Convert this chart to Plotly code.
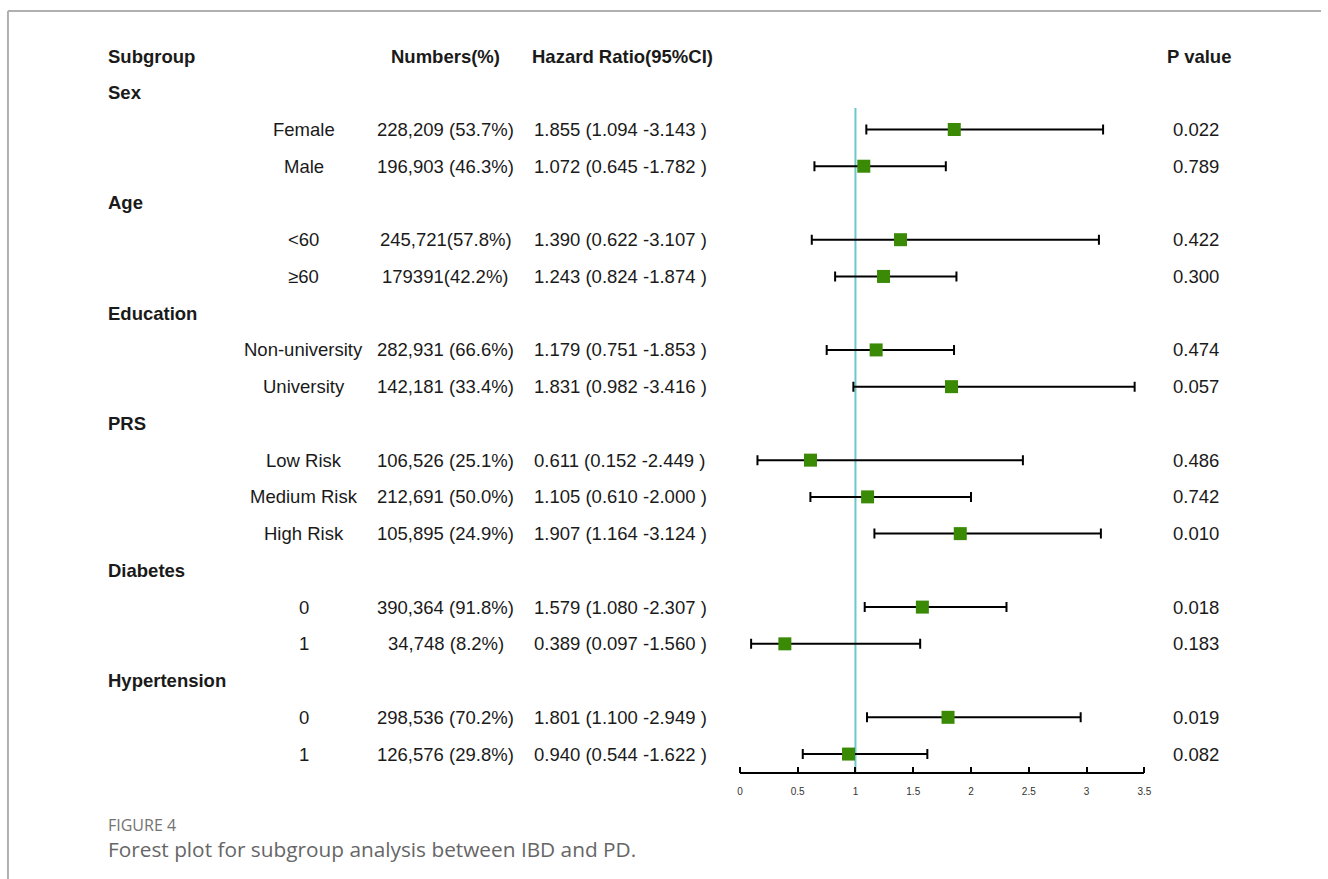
import plotly.graph_objects as go

# ---- data ----
groups = ["Sex", "Age", "Education", "PRS", "Diabetes", "Hypertension"]
group_sizes = [2, 2, 2, 3, 2, 2]
subgroups = ["Female", "Male", "<60", "≥60", "Non-university", "University",
             "Low Risk", "Medium Risk", "High Risk", "0", "1", "0", "1"]
numbers = ["228,209 (53.7%)", "196,903 (46.3%)", "245,721(57.8%)", "179391(42.2%)",
           "282,931 (66.6%)", "142,181 (33.4%)", "106,526 (25.1%)", "212,691 (50.0%)",
           "105,895 (24.9%)", "390,364 (91.8%)", "34,748 (8.2%)", "298,536 (70.2%)",
           "126,576 (29.8%)"]
hr = [1.855, 1.072, 1.390, 1.243, 1.179, 1.831, 0.611, 1.105, 1.907, 1.579, 0.389, 1.801, 0.940]
lo = [1.094, 0.645, 0.622, 0.824, 0.751, 0.982, 0.152, 0.610, 1.164, 1.080, 0.097, 1.100, 0.544]
hi = [3.143, 1.782, 3.107, 1.874, 1.853, 3.416, 2.449, 2.000, 3.124, 2.307, 1.560, 2.949, 1.622]
pvals = ["0.022", "0.789", "0.422", "0.300", "0.474", "0.057", "0.486", "0.742",
         "0.010", "0.018", "0.183", "0.019", "0.082"]
x_ticks = [0, 0.5, 1, 1.5, 2, 2.5, 3, 3.5]
headers = ["Subgroup", "Numbers(%)", "Hazard Ratio(95%CI)", "P value"]

# ---- layout geometry ----
W, H = 1328, 879
row0_px, row_step = 56, 36.74          # pixel position of header row and row spacing
y_top = -row0_px / row_step
y_bot = (H - row0_px) / row_step

def px(x):
    return x / W

# row indices: header = 0, then group title rows and their subgroup rows
group_rows, sub_rows = [], []
r = 1
for n in group_sizes:
    group_rows.append(r)
    r += 1
    for _ in range(n):
        sub_rows.append(r)
        r += 1
axis_row = sub_rows[-1] + (773 - (row0_px + row_step * sub_rows[-1])) / row_step
axis_pos = 1 - 773 / H
x_domain = [px(742.5), px(1150)]

TXT = "#1a1a1a"
FONT = "Liberation Sans, Arial, sans-serif"
BODY = 18.5
HEAD = 18.5

fig = go.Figure()

# reference line at HR = 1
fig.add_shape(type="line", xref="x", yref="y", x0=1, x1=1,
              y0=1.415, y1=axis_row, line=dict(color="#6cc6cc", width=2), layer="below")

# point estimates with confidence intervals
fig.add_trace(go.Scatter(
    x=hr, y=sub_rows, mode="markers",
    marker=dict(symbol="square", size=13, color="#3a8a06", line=dict(width=0)),
    error_x=dict(type="data", symmetric=False,
                 array=[h - m for h, m in zip(hi, hr)],
                 arrayminus=[m - l for m, l in zip(hr, lo)],
                 color="black", thickness=2, width=5),
    showlegend=False, hoverinfo="skip",
))
# empty trace so the upward tick axis is drawn
fig.add_trace(go.Scatter(x=[], y=[], xaxis="x2", yaxis="y", showlegend=False,
                         hoverinfo="skip"))

ann = []
# column headers
for text, x, anc in zip(headers, [104, 446, 531, 1205], ["left", "center", "left", "center"]):
    ann.append(dict(text=f"<b>{text}</b>", x=px(x), y=0, xref="paper", yref="y",
                    xanchor=anc, yanchor="middle", showarrow=False,
                    font=dict(size=HEAD, color=TXT, family=FONT)))
# group titles
for g, rr in zip(groups, group_rows):
    ann.append(dict(text=f"<b>{g}</b>", x=px(104), y=rr, xref="paper", yref="y",
                    xanchor="left", yanchor="middle", showarrow=False,
                    font=dict(size=HEAD, color=TXT, family=FONT)))
# subgroup rows
for i, rr in enumerate(sub_rows):
    hr_txt = f"{hr[i]:.3f} ({lo[i]:.3f} -{hi[i]:.3f} )"
    for text, x, anc in [(subgroups[i], 303, "center"), (numbers[i], 446, "center"),
                         (hr_txt, 533, "left"), (pvals[i], 1202, "center")]:
        ann.append(dict(text=text, x=px(x), y=rr, xref="paper", yref="y",
                        xanchor=anc, yanchor="middle", showarrow=False,
                        font=dict(size=BODY, color=TXT, family=FONT)))

# caption
ann.append(dict(text="FIGURE 4", x=px(104), y=1 - 825 / H, xref="paper", yref="paper",
                xanchor="left", yanchor="middle", showarrow=False,
                font=dict(size=16, color="#737373", family="Open Sans, sans-serif")))
ann.append(dict(text="Forest plot for subgroup analysis between IBD and PD.",
                x=px(104), y=1 - 849 / H, xref="paper", yref="paper",
                xanchor="left", yanchor="middle", showarrow=False,
                font=dict(size=20.8, color="#666666", family="Open Sans, sans-serif")))

# page frame (top and left edges)
frame = dict(color="#b0b0b0", width=2)
fig.add_shape(type="line", xref="paper", yref="paper", x0=px(5), x1=1,
              y0=1 - 11 / H, y1=1 - 11 / H, line=frame)
fig.add_shape(type="line", xref="paper", yref="paper", x0=px(5), x1=px(5),
              y0=0, y1=1 - 11 / H, line=frame)

fig.update_layout(
    width=W, height=H, margin=dict(l=0, r=0, t=0, b=0),
    paper_bgcolor="white", plot_bgcolor="rgba(0,0,0,0)",
    annotations=ann,
    # bottom axis: line and labels
    xaxis=dict(domain=x_domain, range=[0, 3.5],
               anchor="free", position=axis_pos,
               showline=True, linecolor="black", linewidth=2,
               ticks="", ticklabelstandoff=9,
               tickvals=x_ticks, ticktext=[f"{t:g}" for t in x_ticks],
               tickfont=dict(size=10, color="#333333", family=FONT),
               showgrid=False, zeroline=False, fixedrange=True),
    # companion axis at the same position: ticks pointing upward
    xaxis2=dict(domain=x_domain, range=[0, 3.5], overlaying="x", side="top",
                anchor="free", position=axis_pos,
                showline=False, ticks="outside", ticklen=6, tickwidth=2,
                tickcolor="black", tickvals=x_ticks, showticklabels=False,
                showgrid=False, zeroline=False, fixedrange=True),
    yaxis=dict(domain=[0, 1], range=[y_bot, y_top], visible=False,
               showgrid=False, zeroline=False, fixedrange=True),
)

fig.write_html("out.html")
